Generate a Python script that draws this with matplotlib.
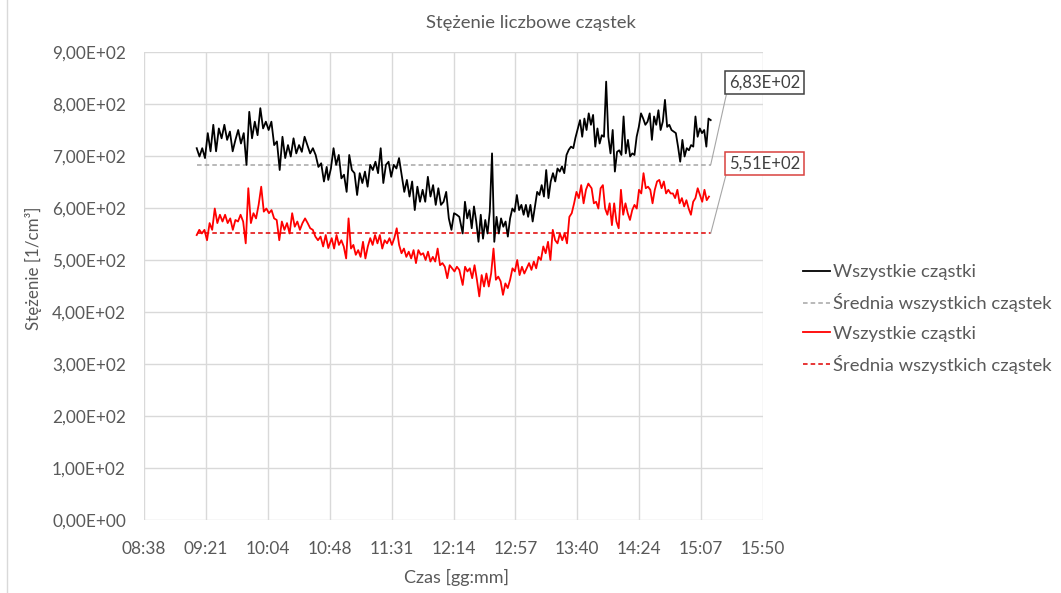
import matplotlib
matplotlib.use("Agg")
import matplotlib.pyplot as plt
import numpy as np
from matplotlib.lines import Line2D

plt.rcParams['font.family'] = ['Lato', 'DejaVu Sans']

# ---------------- data ----------------
title = "Stężenie liczbowe cząstek"
x_label = "Czas [gg:mm]"
y_label = "Stężenie [1/cm³]"
series_names = ["Wszystkie cząstki", "Średnia wszystkich cząstek",
                "Wszystkie cząstki", "Średnia wszystkich cząstek"]

x_tick_labels = ["08:38", "09:21", "10:04", "10:48", "11:31", "12:14",
                 "12:57", "13:40", "14:24", "15:07", "15:50"]
x_axis_min = "08:38:24"
x_axis_max = "15:50:24"
y_ticks = [0, 100, 200, 300, 400, 500, 600, 700, 800, 900]

# black series (all particles, set 1), pieces with their time spans
black_seg_times = [("09:15:11", "10:45:55"), ("10:47:01", "12:18:27"),
                   ("12:20:49", "13:38:00"), ("13:39:30", "13:41:06"),
                   ("13:42:42", "15:13:54")]
black_a = [715, 699, 715, 696, 744, 709, 760, 709, 753, 734, 760, 731, 747, 709,
           731, 750, 724, 744, 683, 785, 734, 766, 740, 792, 753, 766, 750, 766,
           721, 728, 673, 737, 696, 721, 699, 734, 705, 721, 708, 737, 721, 705,
           715, 702, 679, 686, 651, 679]
black_b = [654, 676, 715, 683, 702, 657, 664, 631, 702, 673, 667, 625, 667, 648,
           670, 641, 683, 673, 689, 667, 715, 648, 683, 689, 660, 683, 676, 696,
           664, 631, 654, 622, 651, 596, 641, 612, 635, 612, 660, 622, 644, 606,
           638, 606, 612, 631, 580, 558, 590, 587, 583]
black_c = [551, 612, 580, 596, 561, 603, 574, 535, 587, 541, 577, 551, 593, 705,
           535, 583, 551, 580, 564, 574, 545, 580, 599, 593, 625, 596, 606, 587,
           606, 583, 606, 574, 603, 631, 625, 644, 622, 673, 619, 651, 667, 651,
           676, 670, 680, 667, 702, 712, 718, 715]
black_bridge = [735, 752]
black_d = [769, 737, 772, 750, 782, 760, 779, 718, 753, 724, 740, 737, 843, 737,
           705, 750, 670, 708, 711, 702, 776, 705, 731, 699, 705, 702, 737, 756,
           782, 772, 760, 766, 782, 731, 776, 760, 788, 750, 766, 808, 756, 760,
           750, 747, 744, 718, 689, 731, 699, 715, 711, 721, 718, 776, 737, 753,
           744, 750, 718, 772, 769]
black_mean = 683

# red series (all particles, set 2)
red_seg_times = [("09:15:11", "10:47:01"), ("10:49:24", "12:18:27"),
                 ("12:20:49", "13:48:30"), ("13:49:12", "15:12:42")]
red_a = [548, 558, 551, 558, 538, 571, 558, 599, 571, 587, 574, 587, 571, 580,
         558, 577, 574, 587, 574, 532, 638, 571, 590, 580, 606, 641, 593, 599,
         590, 596, 580, 577, 538, 574, 558, 571, 551, 590, 564, 574, 558, 571,
         580, 571, 561, 558, 545, 538, 545, 526, 548, 523]
red_b = [542, 522, 548, 529, 538, 526, 503, 580, 522, 529, 510, 519, 506, 535,
         503, 526, 542, 529, 548, 532, 548, 522, 538, 532, 542, 529, 542, 561,
         529, 513, 522, 506, 516, 503, 519, 494, 519, 510, 513, 500, 516, 497,
         506, 497, 522, 490, 494, 487, 465, 490, 484, 478, 487, 481]
red_c = [452, 487, 478, 484, 465, 490, 462, 430, 471, 449, 474, 449, 474, 522,
         462, 468, 459, 433, 455, 446, 462, 484, 478, 500, 471, 487, 474, 484,
         494, 481, 497, 484, 506, 500, 526, 513, 535, 500, 558, 538, 532, 551,
         538, 551, 532, 583, 590, 609, 631, 619, 644, 609, 635, 647]
red_d = [644, 638, 609, 612, 599, 638, 644, 599, 587, 609, 567, 609, 574, 561,
         635, 587, 609, 590, 577, 596, 606, 599, 635, 628, 667, 638, 641, 635,
         609, 635, 651, 654, 638, 651, 628, 635, 628, 628, 619, 635, 609, 619,
         603, 615, 599, 587, 612, 619, 638, 625, 612, 635, 615, 622]
red_mean = 551

mean_labels = ["6,83E+02", "5,51E+02"]


# ---------------- helpers ----------------
def to_min(s):
    parts = [int(p) for p in s.split(":")]
    while len(parts) < 3:
        parts.append(0)
    return parts[0] * 60 + parts[1] + parts[2] / 60.0


def build(seg_times, pieces):
    ts, vs = [], []
    for (a, b), vals in zip(seg_times, pieces):
        ts.append(np.linspace(to_min(a), to_min(b), len(vals)))
        vs.append(np.asarray(vals, dtype=float))
    return np.concatenate(ts), np.concatenate(vs)


bt, bv = build(black_seg_times, [black_a, black_b, black_c, black_bridge, black_d])
rt, rv = build(red_seg_times, [red_a, red_b, red_c, red_d])
t_start = min(bt[0], rt[0])
t_end = max(bt[-1], rt[-1])

GRAY_TXT = "#595959"
GRID = "#d9d9d9"
FS_TICK = 12.4
FS_LEG = 13.3

# ---------------- figure ----------------
fig = plt.figure(figsize=(10.61, 5.93), dpi=100)
ax = fig.add_axes([144 / 1061, 1 - 520 / 593, 619 / 1061, 468 / 593])

xmin, xmax = to_min(x_axis_min), to_min(x_axis_max)
ax.set_xlim(xmin, xmax)
ax.set_ylim(0, 900)

ax.plot(bt, bv, color="black", lw=1.3, zorder=3)
ax.plot([t_start, t_end], [black_mean, black_mean], color="#a6a6a6",
        lw=1.1, ls=(0, (3, 2)), zorder=2)
ax.plot(rt, rv, color="#ff0000", lw=1.3, zorder=3)
ax.plot([t_start, t_end], [red_mean, red_mean], color="#e00000",
        lw=1.1, ls=(0, (3, 2)), zorder=2)

ax.set_xticks(np.linspace(xmin, xmax, len(x_tick_labels)))
ax.set_xticklabels(x_tick_labels)
ax.set_yticks(y_ticks)


def yfmt(v):
    if v == 0:
        return "0,00E+00"
    return f"{v / 100:.2f}".replace(".", ",") + "E+02"


ax.set_yticklabels([yfmt(v) for v in y_ticks])
ax.tick_params(axis="both", length=0, labelsize=FS_TICK, labelcolor=GRAY_TXT)
ax.tick_params(axis="x", pad=15)
ax.tick_params(axis="y", pad=13)
ax.grid(True, color=GRID, lw=1)
ax.set_axisbelow(True)
for s in ax.spines.values():
    s.set_visible(False)

# mean value call-outs
box_left = xmin + (729 - 144) / 619 * (xmax - xmin)
ax.annotate(mean_labels[0], xy=(t_end, black_mean), xytext=(box_left, 841),
            ha="left", va="center", fontsize=12, color="#404040",
            annotation_clip=False,
            bbox=dict(boxstyle="square,pad=0.22", fc="white", ec="#404040", lw=1.1),
            arrowprops=dict(arrowstyle="-", color="#a6a6a6", lw=0.8,
                            shrinkA=0, shrinkB=0, relpos=(0, 0.5)))
ax.annotate(mean_labels[1], xy=(t_end, red_mean), xytext=(box_left, 686),
            ha="left", va="center", fontsize=12, color="#404040",
            annotation_clip=False,
            bbox=dict(boxstyle="square,pad=0.22", fc="white", ec="#d9413f", lw=1.1),
            arrowprops=dict(arrowstyle="-", color="#a6a6a6", lw=0.8,
                            shrinkA=0, shrinkB=0, relpos=(0, 0.5)))

fig.text(530.5 / 1061, 1 - 28 / 593, title, ha="center", va="baseline",
         fontsize=13.3, color=GRAY_TXT)
fig.text(456 / 1061, 1 - 577 / 593, x_label, ha="center", va="center",
         fontsize=13, color=GRAY_TXT)
fig.text(33 / 1061, 1 - 268 / 593, y_label, ha="center", va="center",
         rotation=90, fontsize=12.2, color=GRAY_TXT)

handles = [
    Line2D([], [], color="black", lw=1.3),
    Line2D([], [], color="#a6a6a6", lw=1.1, ls=(0, (3, 2))),
    Line2D([], [], color="#ff0000", lw=1.3),
    Line2D([], [], color="#e00000", lw=1.1, ls=(0, (3, 2))),
]
leg = fig.legend(handles, series_names, loc="center left",
                 bbox_to_anchor=(803 / 1061, 1 - 319 / 593), frameon=False,
                 fontsize=FS_LEG, handlelength=1.45, handletextpad=0.15,
                 labelspacing=0.72, borderaxespad=0, borderpad=0)
for t in leg.get_texts():
    t.set_color(GRAY_TXT)

fig.add_artist(Line2D([7 / 1061, 7 / 1061], [0, 1], transform=fig.transFigure,
                      color=GRID, lw=1))

fig.savefig("out.png", dpi=100)
